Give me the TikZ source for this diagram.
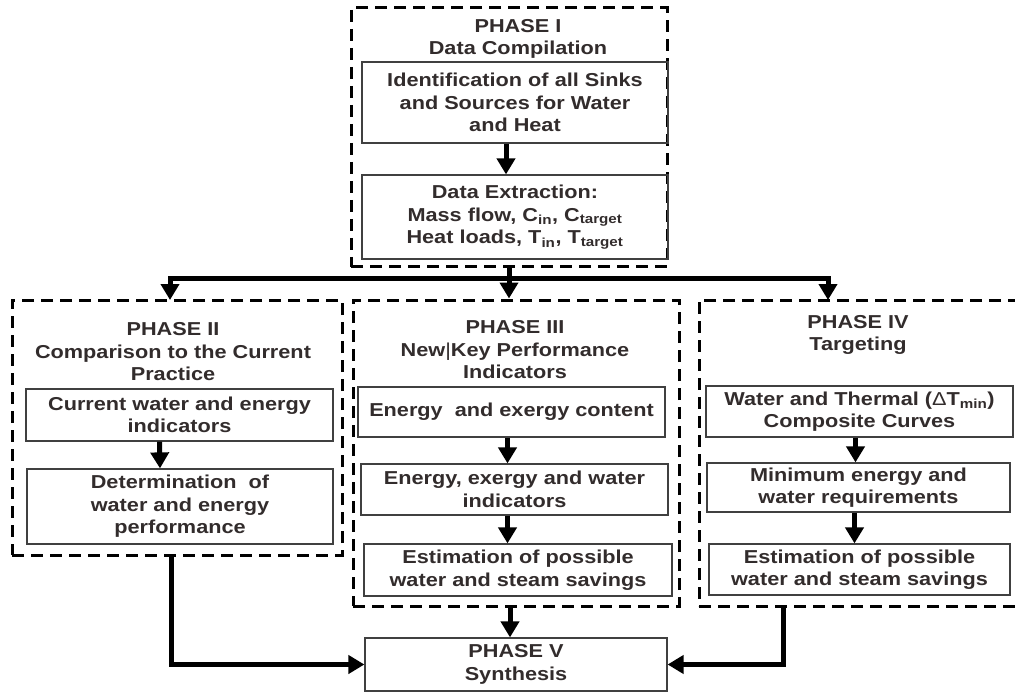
\documentclass[tikz,border=0pt]{standalone}
\usepackage{fontspec}
\setmainfont{Liberation Sans}[FakeStretch=1.16]
\usetikzlibrary{arrows.meta}

\definecolor{txtgray}{RGB}{50,44,44}

\tikzset{
  phase/.style={draw, line width=3pt, dash pattern=on 12pt off 7pt, inner sep=0pt},
  stepbox/.style={draw=black!75, line width=1.2pt, align=center, inner sep=0pt},
  title/.style={align=center, inner sep=0pt},
  flow/.style={line width=5pt, -{Triangle[width=18pt,length=16pt]}},
}

\begin{document}
\begin{tikzpicture}[x=1pt, y=-1pt,
    every node/.style={text=txtgray, font=\fontsize{18.7}{22.5}\selectfont\bfseries}]
\useasboundingbox (0,0) rectangle (1015,695);

% Phase I
\node[phase, minimum width=316pt, minimum height=259pt] (p1) at (509,137.5) {};
\node[title] (p1t) at (518,39) {PHASE I\\Data Compilation};
\node[stepbox, minimum width=306pt, minimum height=81pt] (p1a) at (515,102.5)
  {Identification of all Sinks\\and Sources for Water\\and Heat};
\node[stepbox, minimum width=306pt, minimum height=84pt] (p1b) at (515,217)
  {Data Extraction:\\Mass flow, C\textsubscript{in}, C\textsubscript{target}\\Heat loads, T\textsubscript{in}, T\textsubscript{target}};
\draw[flow] ([xshift=-9pt]p1a.south) -- ([xshift=-9pt]p1b.north);

% Phase II
\node[phase, minimum width=330pt, minimum height=255pt] (p2) at (177,427.5) {};
\node[title] (p2t) at (173,352) {PHASE II\\Comparison to the Current\\Practice};
\node[stepbox, minimum width=307pt, minimum height=52pt] (p2a) at (179.5,415)
  {Current water and energy\\indicators};
\node[stepbox, minimum width=306pt, minimum height=75pt] (p2b) at (180,506.5)
  {Determination\ \ of\\water and energy\\performance};
\draw[flow] ([xshift=-20pt]p2a.south) -- ([xshift=-20pt]p2b.north);

% Phase III
\node[phase, minimum width=326pt, minimum height=306pt] (p3) at (516,453) {};
\node[title] (p3t) at (515,350) {PHASE III\\New{\mdseries|}Key Performance\\Indicators};
\node[stepbox, minimum width=307pt, minimum height=50pt] (p3a) at (511.5,412)
  {Energy\ \ and exergy content};
\node[stepbox, minimum width=307pt, minimum height=51pt] (p3b) at (514.5,489.5)
  {Energy, exergy and water\\indicators};
\node[stepbox, minimum width=308pt, minimum height=52pt] (p3c) at (518,570)
  {Estimation of possible\\water and steam savings};
\draw[flow] ([xshift=-4pt]p3a.south) -- ([xshift=-4pt]p3a.south |- p3b.north);
\draw[flow] ([xshift=-7pt]p3b.south) -- ([xshift=-7pt]p3b.south |- p3c.north);

% Phase IV
\node[phase, minimum width=321pt, minimum height=306pt] (p4) at (859.5,453) {};
\node[title] (p4t) at (858,335) {PHASE IV\\Targeting};
\node[stepbox, minimum width=307pt, minimum height=51pt] (p4a) at (859.5,411.5)
  {Water and Thermal ({\mdseries Δ}T\textsubscript{min})\\Composite Curves};
\node[stepbox, minimum width=303pt, minimum height=49pt] (p4b) at (858.5,487.5)
  {Minimum energy and\\water requirements};
\node[stepbox, minimum width=301pt, minimum height=51pt] (p4c) at (859.5,569.5)
  {Estimation of possible\\water and steam savings};
\draw[flow] ([xshift=-4pt]p4a.south) -- ([xshift=-4pt]p4a.south |- p4b.north);
\draw[flow] ([xshift=-4pt]p4b.south) -- ([xshift=-4pt]p4b.south |- p4c.north);

% Phase V
\node[stepbox, minimum width=302pt, minimum height=53pt] (p5) at (516,664.5)
  {PHASE V\\Synthesis};

% Links between the phases
\coordinate (in2) at (170,300);
\coordinate (in4) at (828,300);
\coordinate (out2) at (171,555);
\coordinate (out4) at (783,606);
\draw[flow] (p1.south) -- ++(0,10) -| (in2);
\draw[flow] (p1.south) -- ++(0,10) -| (in4);
\draw[flow] (p1.south) -- (p1.south |- p3.north);
\draw[flow] (out2) |- (p5.west);
\draw[flow] (out4) |- (p5.east);
\draw[flow] ([xshift=-6pt]p3.south) -- ([xshift=-6pt]p3.south |- p5.north);
\end{tikzpicture}
\end{document}
